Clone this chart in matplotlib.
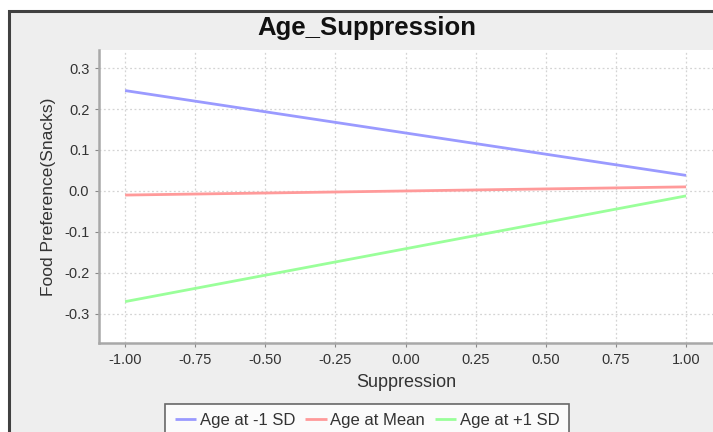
import matplotlib
matplotlib.use("Agg")
import matplotlib.pyplot as plt
from matplotlib.patches import Rectangle

plt.rcParams["font.family"] = ["Liberation Sans", "DejaVu Sans"]

# Data
x_vals = [-1.0, 1.0]
series_names = ["Age at -1 SD", "Age at Mean", "Age at +1 SD"]
low_sd = [0.245, 0.038]
mean_vals = [-0.010, 0.010]
high_sd = [-0.270, -0.012]
series_values = [low_sd, mean_vals, high_sd]
series_colors = ["#9a9aff", "#ff9a9a", "#9aff9a"]
x_ticks = [-1.00, -0.75, -0.50, -0.25, 0.00, 0.25, 0.50, 0.75, 1.00]
y_ticks = [-0.3, -0.2, -0.1, 0.0, 0.1, 0.2, 0.3]

W, H = 713, 432
fig = plt.figure(figsize=(W / 100, H / 100), dpi=100)
fig.patch.set_facecolor("white")

# Outer panel with dark border (left/top)
panel = Rectangle((9 / W, -0.1), 1.2, (H - 11) / H + 0.1, transform=fig.transFigure,
                  facecolor="#eeeeee", edgecolor="#404040", linewidth=2.2, zorder=-10)
fig.patches.append(panel)

ax = fig.add_axes([99 / W, (H - 343) / H, (W - 99) / W, (343 - 50) / H])
ax.set_zorder(1)
ax.set_facecolor("white")

for vals, name, col in zip(series_values, series_names, series_colors):
    ax.plot(x_vals, vals, color=col, linewidth=2.0, label=name, solid_capstyle="butt")

ax.set_xlim(-1.093, 1.096)
ax.set_ylim(-0.371, 0.344)
ax.set_xticks(x_ticks)
ax.set_xticklabels([f"{t:.2f}" for t in x_ticks])
ax.set_yticks(y_ticks)
ax.set_yticklabels([f"{t:.1f}" for t in y_ticks])
ax.tick_params(axis="both", labelsize=10.5, colors="#333333", length=3, width=0.8,
               direction="out", color="#888888", pad=4)
ax.grid(True, linestyle=(0, (1.5, 2)), color="#d4d4d4", linewidth=0.9)
ax.set_axisbelow(True)

for s in ["top", "right"]:
    ax.spines[s].set_visible(False)
for s in ["left", "bottom"]:
    ax.spines[s].set_color("#a8a8a8")
    ax.spines[s].set_linewidth(1.8)

ax.set_xlabel("Suppression", fontsize=13, color="#333333", labelpad=5)
ax.set_ylabel("Food Preference(Snacks)", fontsize=12.5, color="#333333", labelpad=6)

fig.text(367 / W, (H - 28) / H, "Age_Suppression", ha="center", va="center",
         fontsize=18.5, fontweight="bold", color="#111111")

leg = fig.legend(loc="upper center", bbox_to_anchor=(367 / W, (H - 404) / H), ncol=3,
                 fontsize=12, frameon=True, fancybox=False, handlelength=1.3,
                 handletextpad=0.2, columnspacing=0.6, borderpad=0.55, borderaxespad=0)
leg.get_frame().set_edgecolor("#444444")
leg.get_frame().set_linewidth(1.2)
leg.get_frame().set_facecolor("white")
for t in leg.get_texts():
    t.set_color("#333333")

fig.savefig("out.png", dpi=100)
